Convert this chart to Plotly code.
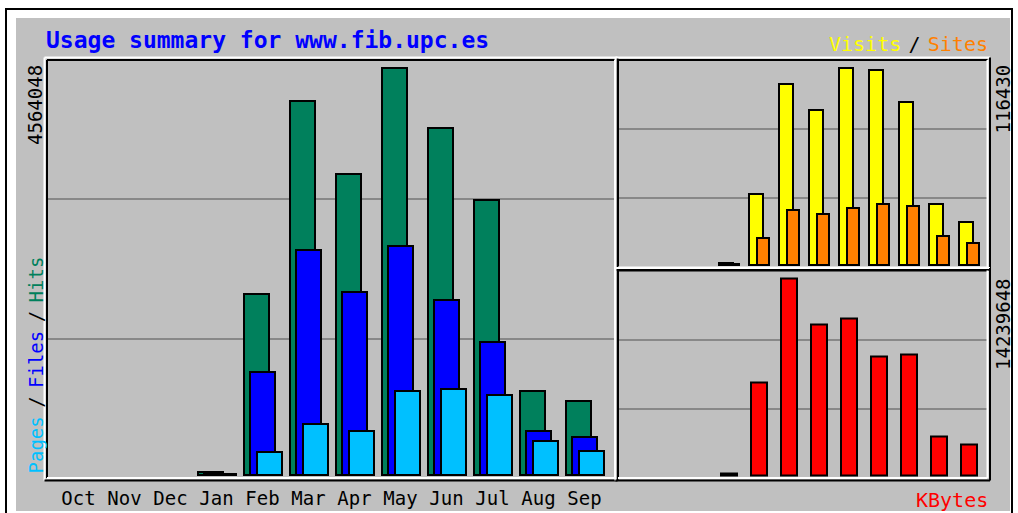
import plotly.graph_objects as go

# ---------------- data ----------------
months = ["Oct", "Nov", "Dec", "Jan", "Feb", "Mar", "Apr", "May", "Jun", "Jul", "Aug", "Sep"]
hits = [None, None, None, 30000, 2029700, 4194000, 3375400, 4564048, 3891200, 3083800, 945000, 833000]
files = [None, None, None, 12000, 1155000, 2523000, 2052000, 2568000, 1962000, 1491000, 497000, 426000]
pages = [None, None, None, 6000, 255000, 568000, 497000, 945000, 964000, 900000, 385000, 272000]
visits = [None, None, None, 600, 41840, 107110, 91680, 116430, 115420, 96610, 35720, 25040]
sites = [None, None, None, 300, 15550, 32340, 29790, 33350, 35720, 34540, 16730, 12940]
kbytes = [None, None, None, 100000, 6711000, 14239648, 10931000, 11344000, 8615000, 8738000, 2773000, 2222000]
hits_max = 4564048
visits_max = 116430
kbytes_max = 14239648
title_text = "Usage summary for www.fib.upc.es"

# ---------------- geometry ----------------
W, H = 1018, 513
FONT = "DejaVu Sans Mono"
BG = "#c0c0c0"
GRID = "#888888"
C_HITS, C_FILES, C_PAGES = "#00805c", "#0000ff", "#00c0ff"
C_VISITS, C_SITES, C_KB = "#ffff00", "#ff8000", "#ff0000"


def fx(px):
    return px / W


def fy(py):
    return 1 - py / H


xs = list(range(len(months)))

# panels (pixel edges)
M = (47, 615, 60, 478)        # x0, x1, y0, y1
TR = (618, 987.5, 60, 267.5)
BR = (618, 987.5, 270.5, 478)

# main x mapping: centre = 78.5 + 46*i
m_c0, m_step = 78.5, 46.0
r_c0, r_step = 639.0, 30.0

# y mappings
m_zero, m_top = 475.0, 68.0
m_s = hits_max / (m_zero - m_top)
tr_zero, tr_top = 264.5, 68.3
tr_s = visits_max / (tr_zero - tr_top)
br_zero, br_top = 475.0, 278.3
br_s = kbytes_max / (br_zero - br_top)


def thirds(p):
    y0, y1 = p[2], p[3]
    return [y0 + (y1 - y0) / 3, y0 + 2 * (y1 - y0) / 3]


fig = go.Figure()

line = dict(color="black", width=2)


def add_bar(y, color, off_px, w_px, step, xa, ya):
    fig.add_trace(go.Bar(
        x=xs, y=y, marker=dict(color=color, line=line),
        offset=off_px / step, width=w_px / step,
        xaxis=xa, yaxis=ya, showlegend=False, hoverinfo="skip"))


# main panel
add_bar(hits, C_HITS, -18.5, 25, m_step, "x", "y")
add_bar(files, C_FILES, -12.2, 25, m_step, "x", "y")
add_bar(pages, C_PAGES, -5.5, 24.5, m_step, "x", "y")
# visits / sites
add_bar(visits, C_VISITS, -10.2, 14.4, r_step, "x2", "y2")
add_bar(sites, C_SITES, -2.5, 12.7, r_step, "x2", "y2")
# kbytes
add_bar(kbytes, C_KB, -8.4, 16.7, r_step, "x3", "y3")

common_x = dict(showgrid=False, zeroline=False, showline=False, ticks="", fixedrange=True)
common_y = dict(showticklabels=False, zeroline=False, showline=False, ticks="",
                gridcolor=GRID, gridwidth=2, showgrid=True, fixedrange=True)

fig.update_layout(
    width=W, height=H, autosize=False,
    margin=dict(l=0, r=0, t=0, b=0, pad=0),
    paper_bgcolor="white", plot_bgcolor=BG,
    barmode="overlay", bargap=0,
    xaxis=dict(**common_x, domain=[fx(M[0]), fx(M[1])],
               range=[(M[0] - m_c0) / m_step, (M[1] - m_c0) / m_step],
               tickvals=xs, ticktext=months, ticklabelstandoff=7,
               tickfont=dict(family=FONT, size=19, color="black"), anchor="y"),
    yaxis=dict(**common_y, domain=[fy(M[3]), fy(M[2])],
               range=[-(M[3] - m_zero) * m_s, (m_zero - M[2]) * m_s],
               tickvals=[(m_zero - p) * m_s for p in thirds(M)], anchor="x"),
    xaxis2=dict(**common_x, domain=[fx(TR[0]), fx(TR[1])],
                range=[(TR[0] - r_c0) / r_step, (TR[1] - r_c0) / r_step],
                showticklabels=False, anchor="y2"),
    yaxis2=dict(**common_y, domain=[fy(TR[3]), fy(TR[2])],
                range=[-(TR[3] - tr_zero) * tr_s, (tr_zero - TR[2]) * tr_s],
                tickvals=[(tr_zero - p) * tr_s for p in thirds(TR)], anchor="x2"),
    xaxis3=dict(**common_x, domain=[fx(BR[0]), fx(BR[1])],
                range=[(BR[0] - r_c0) / r_step, (BR[1] - r_c0) / r_step],
                showticklabels=False, anchor="y3"),
    yaxis3=dict(**common_y, domain=[fy(BR[3]), fy(BR[2])],
                range=[-(BR[3] - br_zero) * br_s, (br_zero - BR[2]) * br_s],
                tickvals=[(br_zero - p) * br_s for p in thirds(BR)], anchor="x3"),
)

# ---------------- frame & panel borders ----------------
shapes = []


def pline(x0, y0, x1, y1, color, width=2):
    shapes.append(dict(type="line", xref="paper", yref="paper",
                       x0=fx(x0), y0=fy(y0), x1=fx(x1), y1=fy(y1),
                       line=dict(color=color, width=width), layer="above"))


# outer frame
shapes.append(dict(type="rect", xref="paper", yref="paper",
                   x0=fx(6), y0=fy(9), x1=fx(1012), y1=fy(530),
                   line=dict(color="black", width=2), fillcolor="white", layer="below"))
shapes.append(dict(type="rect", xref="paper", yref="paper",
                   x0=fx(16), y0=fy(18), x1=fx(1010), y1=fy(511),
                   line=dict(width=0), fillcolor=BG, layer="below"))

for (x0, x1, y0, y1) in (M, TR, BR):
    pline(x0 - 2.5, y0 - 2.5, x1 + 2.5, y0 - 2.5, "white")
    pline(x0 - 2.5, y0 - 2.5, x0 - 2.5, y1 + 2.5, "white")
    pline(x1 + 2.5, y0 - 2.5, x1 + 2.5, y1 + 2.5, "black")
    pline(x0 - 2.5, y1 + 2.5, x1 + 2.5, y1 + 2.5, "black")
    pline(x0, y0, x1, y0, "black")
    pline(x0, y0, x0, y1, "black")
    pline(x1, y0, x1, y1, "white")
    pline(x0, y1, x1, y1, "white")

fig.update_layout(shapes=shapes)

# ---------------- texts ----------------
sp = "<span style='font-size:14px'> </span>"
sp2 = "<span style='font-size:12px'> </span>"
ann = [
    dict(x=fx(44), y=fy(40), xanchor="left", yanchor="middle",
         text="<b>" + title_text + "</b>", font=dict(family=FONT, size=23, color="#0000ff")),
    dict(x=fx(35), y=fy(63), xanchor="center", yanchor="top", textangle=-90,
         text=str(hits_max), font=dict(family=FONT, size=19, color="black")),
    dict(x=fx(35), y=fy(476), xanchor="center", yanchor="bottom", textangle=-90,
         text=f"<span style='color:{C_PAGES}'>Pages</span>{sp}/{sp}"
              f"<span style='color:{C_FILES}'>Files</span>{sp}/{sp}"
              f"<span style='color:{C_HITS}'>Hits</span>",
         font=dict(family=FONT, size=19, color="black")),
    dict(x=fx(1003), y=fy(63), xanchor="center", yanchor="top", textangle=-90,
         text=str(visits_max), font=dict(family=FONT, size=19, color="black")),
    dict(x=fx(1003), y=fy(276), xanchor="center", yanchor="top", textangle=-90,
         text=str(kbytes_max), font=dict(family=FONT, size=19, color="black")),
    dict(x=fx(990), y=fy(44), xanchor="right", yanchor="middle",
         text=f"<span style='color:{C_VISITS}'>Visits</span>{sp2}/{sp2}"
              f"<span style='color:{C_SITES}'>Sites</span>",
         font=dict(family=FONT, size=20, color="black")),
    dict(x=fx(990), y=fy(500), xanchor="right", yanchor="middle",
         text="KBytes", font=dict(family=FONT, size=20, color=C_KB)),
]
for a in ann:
    a.update(xref="paper", yref="paper", showarrow=False)
fig.update_layout(annotations=ann)

fig.write_html("out.html", config={"displayModeBar": False},
               post_script="document.body.style.margin='0px';")
